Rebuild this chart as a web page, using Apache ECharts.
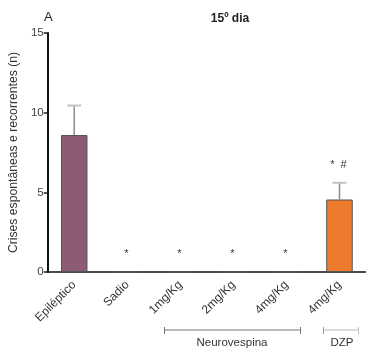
<!DOCTYPE html>
<html><head><meta charset="utf-8">
<script src="https://cdn.jsdelivr.net/npm/echarts@6/dist/echarts.min.js"></script>
<style>html,body{margin:0;padding:0;background:#fff}#c{width:366px;height:356px}</style>
</head><body><div id="c"></div>
<script>
const categories = ['Epiléptico','Sadio','1mg/Kg','2mg/Kg','4mg/Kg','4mg/Kg'];
const means = [8.6, 0, 0, 0, 0, 4.55];
const errors = [1.85, 0, 0, 0, 0, 1.05];
const barColors = ['#8c5a73', '#8c5a73', '#8c5a73', '#8c5a73', '#8c5a73', '#ee7a2e'];
const marks = ['', '*', '*', '*', '*', '*  #'];
const yTicks = [0, 5, 10, 15];

const FONT = 'Liberation Sans, Arial, sans-serif';
const chart = echarts.init(document.getElementById('c'), null, {renderer:'canvas'});
const option = {
  animation: false,
  backgroundColor: '#fff',
  grid: {left: 44, top: 33, width: 323, height: 239, containLabel: false},
  xAxis: {
    type: 'category', data: categories,
    axisLine: {lineStyle: {color: '#111', width: 1.5}},
    axisTick: {alignWithLabel: true, length: 4, lineStyle: {color: '#444', width: 1.5}},
    axisLabel: {rotate: 45, margin: 11, interval: 0, fontFamily: FONT, fontSize: 12, color: '#333'}
  },
  yAxis: {
    type: 'value', min: yTicks[0], max: yTicks[yTicks.length-1], interval: 5,
    name: 'Crises espontâneas e recorrentes (n)', nameLocation: 'middle', nameGap: 23,
    nameTextStyle: {fontFamily: FONT, fontSize: 12.2, color: '#333'},
    splitLine: {show: false},
    axisLine: {show: true, lineStyle: {color: '#111', width: 2}},
    axisTick: {show: true, length: 4, lineStyle: {color: '#222', width: 1.5}},
    axisLabel: {margin: 4, fontFamily: FONT, fontSize: 11.5, color: '#444'}
  },
  series: [
    {type: 'bar', barWidth: '50%',
     data: means.map((v, i) => ({value: v, itemStyle: {color: barColors[i], borderColor: '#555', borderWidth: 1}}))},
    {type: 'custom', z: 5,
     data: means.map((v, i) => [i, v, v + errors[i]]),
     renderItem: function (params, api) {
       const x = api.value(0);
       const lo = api.coord([x, api.value(1)]);
       const hi = api.coord([x, api.value(2)]);
       const children = [];
       if (api.value(2) > api.value(1)) {
         children.push({type: 'line', shape: {x1: lo[0], y1: lo[1], x2: hi[0], y2: hi[1]},
           style: {stroke: '#8a8a8a', lineWidth: 1.5}});
         children.push({type: 'line', shape: {x1: hi[0] - 7, y1: hi[1], x2: hi[0] + 7, y2: hi[1]},
           style: {stroke: '#c4c4c4', lineWidth: 2}});
       }
       const m = marks[params.dataIndex];
       if (m) {
         children.push({type: 'text', x: hi[0] - 1, y: hi[1] - 18,
           style: {text: m, fontFamily: FONT, fontSize: 11, fill: '#333', align: 'center', verticalAlign: 'middle'}});
       }
       return {type: 'group', children: children};
     }}
  ],
  graphic: [
    {type: 'text', x: 44, y: 11, style: {text: 'A', fontFamily: FONT, fontSize: 13, fill: '#222'}},
    {type: 'text', x: 230, y: 19, style: {text: '15º dia', fontFamily: FONT, fontSize: 12, fontWeight: 'bold', fill: '#222', align: 'center', verticalAlign: 'middle'}},
    {type: 'group', children: [
      {type: 'line', shape: {x1: 164, y1: 330, x2: 301, y2: 330}, style: {stroke: '#777', lineWidth: 1}},
      {type: 'line', shape: {x1: 164.5, y1: 327, x2: 164.5, y2: 334}, style: {stroke: '#777', lineWidth: 1}},
      {type: 'line', shape: {x1: 300.5, y1: 327, x2: 300.5, y2: 334}, style: {stroke: '#777', lineWidth: 1}},
      {type: 'text', x: 232, y: 343, style: {text: 'Neurovespina', fontFamily: FONT, fontSize: 11.5, fill: '#333', align: 'center', verticalAlign: 'middle'}},
      {type: 'line', shape: {x1: 323, y1: 330, x2: 359, y2: 330}, style: {stroke: '#bbb', lineWidth: 1}},
      {type: 'line', shape: {x1: 323.5, y1: 327, x2: 323.5, y2: 334}, style: {stroke: '#999', lineWidth: 1}},
      {type: 'line', shape: {x1: 358.5, y1: 327, x2: 358.5, y2: 334}, style: {stroke: '#bbb', lineWidth: 1}},
      {type: 'text', x: 342, y: 343, style: {text: 'DZP', fontFamily: FONT, fontSize: 11.5, fill: '#333', align: 'center', verticalAlign: 'middle'}}
    ]}
  ]
};
chart.setOption(option);
</script></body></html>
